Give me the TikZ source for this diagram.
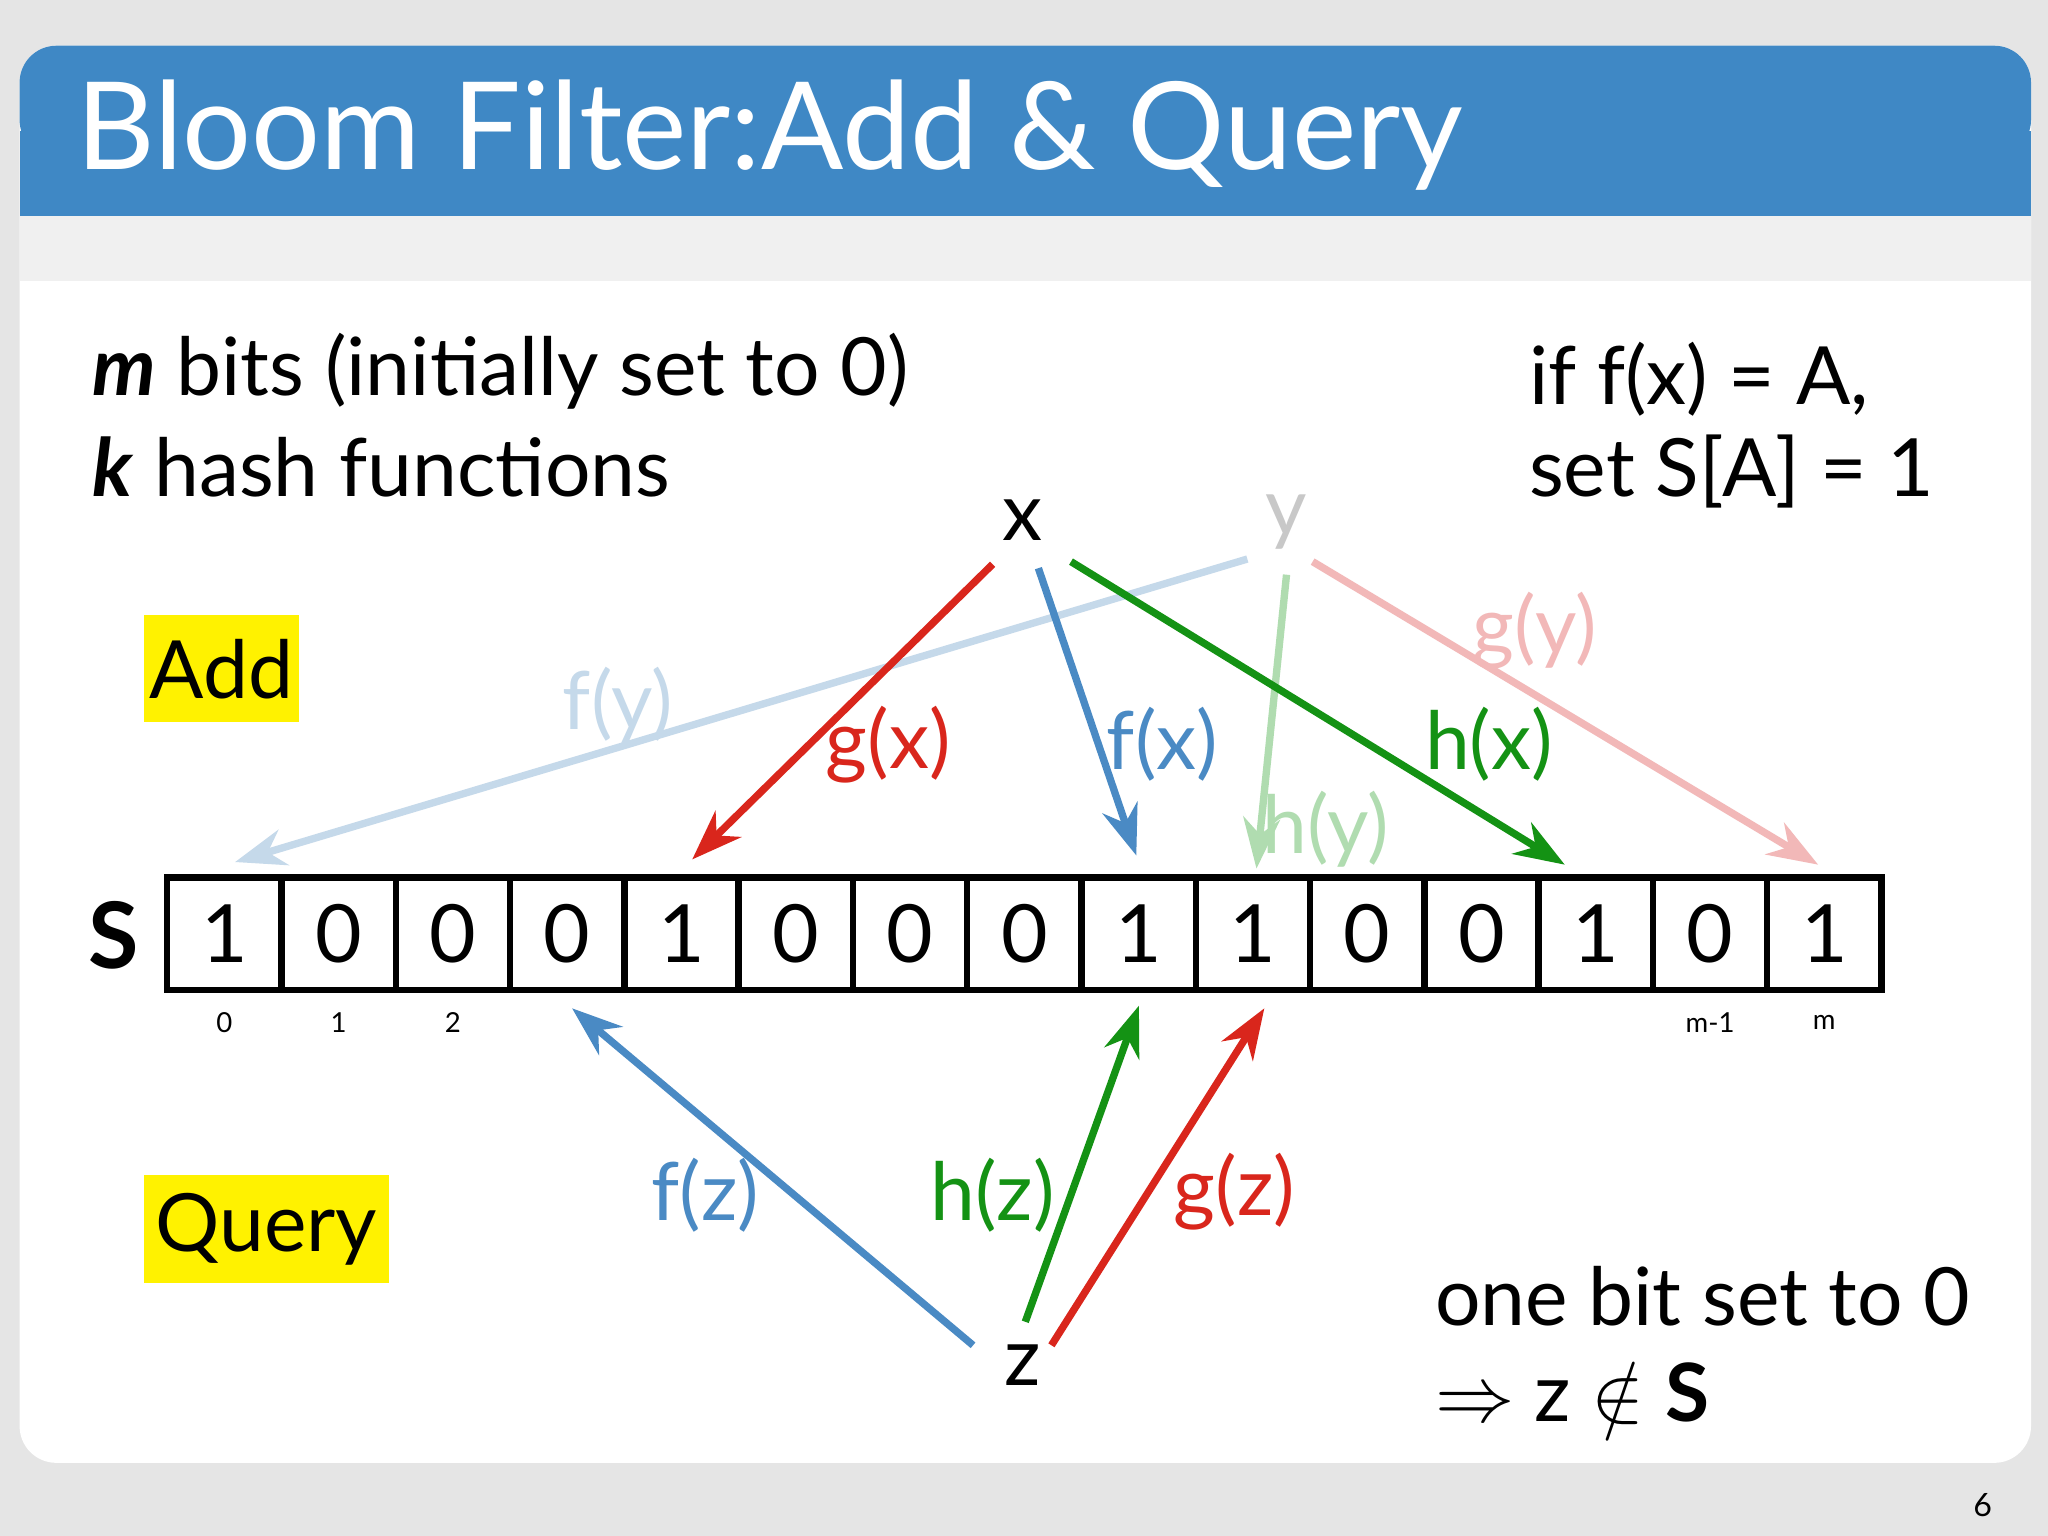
\documentclass[tikz,border=0pt]{standalone}
\usepackage{fontspec}
\setmainfont{Lato}
\usetikzlibrary{arrows.meta}
\definecolor{hdr}{HTML}{3F88C5}
\definecolor{cb}{HTML}{4A8AC4}
\definecolor{cr}{HTML}{D9261C}
\definecolor{cg}{HTML}{149214}
\definecolor{lb}{HTML}{C5D9EA}
\definecolor{lr}{HTML}{F2B8B8}
\definecolor{lg}{HTML}{B0DCB0}
\definecolor{ly}{HTML}{C8C8C8}
\tikzset{
 arr/.style={line width=1.6pt,-{Stealth[length=11pt,width=8pt]}},
 lbl/.style={font=\fontsize{17.5}{20}\selectfont,inner sep=0pt},
 body/.style={anchor=base west,inner sep=0pt,font=\fontsize{17.5}{20}\selectfont},
 cellbox/.style={draw,line width=1.4pt,minimum width=0.875cm,minimum height=0.86cm,inner sep=0pt,font=\fontsize{17.5}{20}\selectfont},
 idx/.style={font=\fontsize{6}{7}\selectfont,inner sep=0pt}
}
\begin{document}
\begin{tikzpicture}[x=0.01cm,y=-0.01cm]
\fill[black!10] (0,0) rectangle (1568,1176);
\fill[white,rounded corners=8pt] (15,35) rectangle (1555,1120);
\fill[hdr,rounded corners=8pt] (15,35) rectangle (1555,120);
\fill[hdr] (15,100) rectangle (1555,165);
\fill[black!6] (15,165) rectangle (1555,215);
\node[anchor=base west,text=white,font=\fontsize{26.5}{30}\selectfont,inner sep=0pt] (title) at (58,130) {Bloom Filter:Add \& Query};
\node[body] (t1) at (70,303) {\textbf{\textit{m}} bits (initially set to 0)};
\node[body] (t2) at (70,380) {\textbf{\textit{k}} hash functions};
\node[body] (t3) at (1170,310) {if f(x) = A,};
\node[body] (t4) at (1170,380) {set S[A] = 1};
\node[body] (t5) at (1098,1015) {one bit set to 0};
\node[body] (t6) at (1098,1088) {$\Rightarrow$ z $\notin$ \textbf{S}};
\node[fill=yellow,minimum width=1.19cm,minimum height=0.82cm,font=\fontsize{17.5}{20}\selectfont,inner sep=0pt] (add) at (169.5,512) {Add};
\node[fill=yellow,minimum width=1.88cm,minimum height=0.82cm,font=\fontsize{17.5}{20}\selectfont,inner sep=0pt] (query) at (204,941) {Query};
\node[font=\bfseries\fontsize{20}{22}\selectfont,inner sep=0pt] (S) at (87,716) {S};
\foreach \v [count=\i from 0] in {1,0,0,0,1,0,0,0,1,1,0,0,1,0,1}{
  \node[cellbox] (c\i) at ({171.75+87.5*\i},715) {\v};
}
\foreach \i/\t in {0/0,1/1,2/2,13/m-1,14/m}{
  \node[idx] (i\i) at ({171.75+87.5*\i},783) {\t};
}
\node[lbl] (x) at (783,398) {x};
\node[lbl,text=ly] (y) at (985,400) {y};
\node[lbl] (z) at (783,1045) {z};
\coordinate (gx0) at (760,432); \coordinate (gx1) at (530,658);
\coordinate (fx0) at (795,435); \coordinate (fx1) at (870,655);
\coordinate (hx0) at (820,430); \coordinate (hx1) at (1198,662);
\coordinate (fy0) at (955,428); \coordinate (fy1) at (180,660);
\coordinate (hy0) at (985,440); \coordinate (hy1) at (962,665);
\coordinate (gy0) at (1005,430); \coordinate (gy1) at (1392,662);
\coordinate (fz0) at (745,1030); \coordinate (fz1) at (438,772);
\coordinate (hz0) at (785,1012); \coordinate (hz1) at (872,770);
\coordinate (gz0) at (805,1030); \coordinate (gz1) at (968,772);
\draw[arr,lb] (fy0) -- (fy1);
\draw[arr,lg] (hy0) -- (hy1);
\draw[arr,lr] (gy0) -- (gy1);
\draw[arr,cr] (gx0) -- (gx1);
\draw[arr,cb] (fx0) -- (fx1);
\draw[arr,cg] (hx0) -- (hx1);
\draw[arr,cb] (fz0) -- (fz1);
\draw[arr,cg] (hz0) -- (hz1);
\draw[arr,cr] (gz0) -- (gz1);
\node[lbl,text=lb] (lfy) at (473,540) {f(y)};
\node[lbl,text=cr] (lgx) at (680,570) {g(x)};
\node[lbl,text=cb] (lfx) at (890,570) {f(x)};
\node[lbl,text=cg] (lhx) at (1140,570) {h(x)};
\node[lbl,text=lr] (lgy) at (1175,483) {g(y)};
\node[lbl,text=lg] (lhy) at (1015,635) {h(y)};
\node[lbl,text=cb] (lfz) at (540,915) {f(z)};
\node[lbl,text=cg] (lhz) at (760,915) {h(z)};
\node[lbl,text=cr] (lgz) at (945,912) {g(z)};
\node[font=\fontsize{7}{8}\selectfont,inner sep=0pt] (pg) at (1518,1152) {6};
\end{tikzpicture}
\end{document}
